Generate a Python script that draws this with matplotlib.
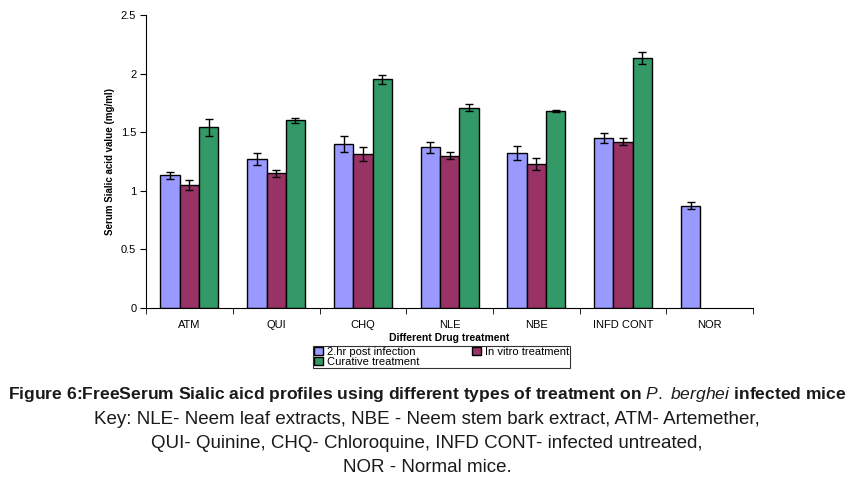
import numpy as np
import matplotlib.pyplot as plt
from matplotlib.patches import Patch

plt.rcParams['mathtext.fontset'] = 'custom'
plt.rcParams['mathtext.it'] = 'Liberation Sans:italic'
plt.rcParams['mathtext.rm'] = 'Liberation Sans'

categories = ['ATM', 'QUI', 'CHQ', 'NLE', 'NBE', 'INFD CONT', 'NOR']
post_2hr = [1.13, 1.27, 1.40, 1.37, 1.32, 1.45, 0.87]
post_2hr_err = [0.03, 0.05, 0.07, 0.05, 0.06, 0.04, 0.03]
in_vitro = [1.05, 1.15, 1.31, 1.30, 1.23, 1.42, np.nan]
in_vitro_err = [0.04, 0.03, 0.06, 0.03, 0.05, 0.03, np.nan]
curative = [1.54, 1.60, 1.95, 1.71, 1.68, 2.13, np.nan]
curative_err = [0.07, 0.02, 0.04, 0.03, 0.01, 0.05, np.nan]

series = [('2.hr post infection', post_2hr, post_2hr_err, '#9999FF'),
          ('In vitro treatment', in_vitro, in_vitro_err, '#993366'),
          ('Curative treatment', curative, curative_err, '#339966')]

fig = plt.figure(figsize=(8.54, 4.84), dpi=100)
ax = fig.add_axes([0.171, 0.364, 0.711, 0.605])

x = np.arange(len(categories))
w = 1 / 4.5
for i, (name, vals, errs, col) in enumerate(series):
    ax.bar(x + (i - 1) * w, vals, w, color=col, edgecolor='black', linewidth=1.0,
           yerr=errs, capsize=3, error_kw=dict(elinewidth=1, capthick=1, ecolor='black'),
           label=name)

ax.set_xlim(-0.5, len(categories) - 0.5)
ax.set_ylim(0, 2.5)
ax.set_yticks([0, 0.5, 1, 1.5, 2, 2.5])
ax.set_yticklabels(['0', '0.5', '1', '1.5', '2', '2.5'], fontsize=8, family='Liberation Sans')
ax.set_xticks(x)
ax.set_xticklabels(categories, fontsize=8, family='Liberation Sans')
ax.tick_params(axis='x', length=0, pad=9)
ax.set_xticks(np.arange(len(categories) + 1) - 0.5, minor=True)
ax.tick_params(axis='x', which='minor', length=4, direction='out')
ax.tick_params(axis='y', length=4, direction='out', pad=3)
ax.spines['top'].set_visible(False)
ax.spines['right'].set_visible(False)
ax.set_ylabel('Serum Sialic acid value (mg/ml)', fontsize=7, fontweight='bold',
              family='Liberation Sans')
ax.set_xlabel('Different Drug treatment', fontsize=7.5, fontweight='bold',
              family='Liberation Sans', labelpad=2)

order = [0, 2, 1]
handles = [Patch(facecolor=series[k][3], edgecolor='black', label=series[k][0]) for k in order]
leg = fig.legend(handles=handles, loc='upper center', bbox_to_anchor=(0.517, 0.286), ncol=2,
                 prop={'family': 'Liberation Sans', 'size': 8}, frameon=True, fancybox=False,
                 edgecolor='black', handlelength=0.8, handleheight=0.7, handletextpad=0.3,
                 columnspacing=4.8, borderpad=0.1, labelspacing=0.0, borderaxespad=0)
leg.get_frame().set_linewidth(0.8)

cap_font = 'Liberation Sans'
fig.text(0.5, 0.184, 'Figure 6:FreeSerum Sialic aicd profiles using different types of treatment on '
         r'$P.\ berghei$ infected mice', ha='center', va='center', fontsize=12.6,
         fontweight='bold', color='#1a1a1a', family=cap_font)
fig.text(0.5, 0.134, 'Key: NLE- Neem leaf extracts, NBE - Neem stem bark extract, ATM- Artemether,',
         ha='center', va='center', fontsize=13.5, color='#1a1a1a', family=cap_font)
fig.text(0.5, 0.083, 'QUI- Quinine, CHQ- Chloroquine, INFD CONT- infected untreated,',
         ha='center', va='center', fontsize=13.5, color='#1a1a1a', family=cap_font)
fig.text(0.5, 0.035, 'NOR - Normal mice.', ha='center', va='center', fontsize=13.5,
         color='#1a1a1a', family=cap_font)

fig.savefig('out.png', dpi=100)
